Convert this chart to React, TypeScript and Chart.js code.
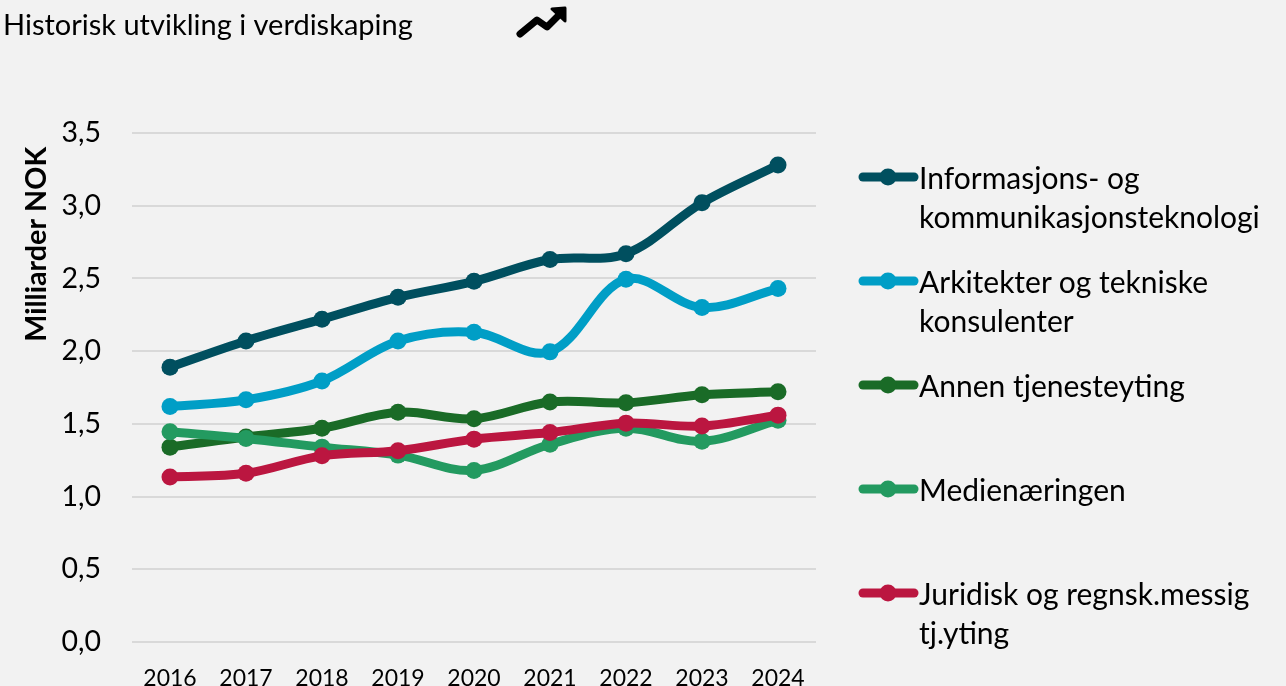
import React, { useEffect, useRef } from "react";
import { Chart, registerables } from "chart.js";

Chart.register(...registerables);

const years = ["2016", "2017", "2018", "2019", "2020", "2021", "2022", "2023", "2024"];
const informasjon = [1.89, 2.07, 2.22, 2.37, 2.48, 2.63, 2.67, 3.02, 3.28];
const arkitekter = [1.62, 1.665, 1.795, 2.07, 2.13, 1.995, 2.495, 2.3, 2.43];
const annen = [1.34, 1.41, 1.47, 1.58, 1.535, 1.65, 1.645, 1.7, 1.72];
const medie = [1.445, 1.4, 1.34, 1.285, 1.18, 1.36, 1.47, 1.38, 1.525];
const juridisk = [1.135, 1.16, 1.28, 1.315, 1.395, 1.44, 1.505, 1.485, 1.56];

const FONT = "Lato, 'Open Sans', sans-serif";
const TITLE = "Historisk utvikling i verdiskaping";
const AXIS_TITLE = "Milliarder NOK\u00a0\u00a0";

const series = [
  { lines: ["Informasjons- og", "kommunikasjonsteknologi"], data: informasjon, color: "#004f5f", legendY: 177 },
  { lines: ["Arkitekter og tekniske", "konsulenter"], data: arkitekter, color: "#009ec6", legendY: 281 },
  { lines: ["Annen tjenesteyting"], data: annen, color: "#1a6b27", legendY: 385 },
  { lines: ["Medienæringen"], data: medie, color: "#239a60", legendY: 489 },
  { lines: ["Juridisk og regnsk.messig", "tj.yting"], data: juridisk, color: "#bb1640", legendY: 593 },
];

export default function App() {
  const ref = useRef<HTMLCanvasElement>(null);
  useEffect(() => {
    document.body.style.margin = "0";
    document.body.style.background = "#f2f2f2";
    const chart = new Chart(ref.current!, {
      type: "line",
      data: {
        labels: years,
        datasets: series.map((s, i) => ({
          label: s.lines.join(" "),
          data: s.data,
          borderColor: s.color,
          backgroundColor: s.color,
          borderWidth: 9,
          pointRadius: 8.5,
          pointBorderWidth: 0,
          pointBackgroundColor: s.color,
          borderCapStyle: "round",
          tension: 0.35,
          order: series.length - i,
        })),
      },
      options: {
        responsive: false,
        animation: false,
        layout: { padding: { left: 3, right: 470, top: 0, bottom: 0 } },
        plugins: {
          legend: { display: false },
          tooltip: { enabled: false },
          title: {
            display: true,
            text: TITLE,
            align: "start",
            color: "#000",
            font: { family: FONT, size: 29, weight: "normal", lineHeight: 1.2 },
            padding: { top: 8, bottom: 90.2 },
          },
        },
        scales: {
          x: {
            offset: true,
            grid: { display: false },
            border: { display: false },
            ticks: { color: "#000", font: { family: FONT, size: 23 }, padding: 15, maxRotation: 0 },
            afterFit: (s: any) => { s.height = 44; },
          },
          y: {
            min: 0,
            max: 3.5,
            grid: { color: "#d9d9d9", lineWidth: 2, drawTicks: false },
            border: { display: false },
            ticks: {
              stepSize: 0.5,
              color: "#000",
              padding: 31,
              font: { family: FONT, size: 28.5 },
              callback: (v: any) => Number(v).toFixed(1).replace(".", ","),
            },
            title: {
              display: true,
              text: AXIS_TITLE,
              color: "#000",
              align: "end",
              font: { family: FONT, size: 28.7, weight: "bold" },
              padding: { top: 17, bottom: 0 },
            },
            afterFit: (s: any) => {
              s.width = 129;
              s.paddingTop = 0;
              s.paddingBottom = 0;
            },
          },
        },
      },
    } as any);
    return () => chart.destroy();
  }, []);

  return (
    <div style={{ position: "relative", width: 1286, height: 686, overflow: "hidden", background: "#f2f2f2" }}>
      <canvas ref={ref} width={1286} height={686} style={{ display: "block", position: "absolute", left: 0, top: 0 }} />
      <svg width={1286} height={686} style={{ position: "absolute", left: 0, top: 0, pointerEvents: "none" }}>
        <polyline points="520,34 537,20 547,27 560,14" fill="none" stroke="#000" strokeWidth={7} strokeLinecap="round" strokeLinejoin="round" />
        <polygon points="552,9 565,8 565,21" fill="#000" stroke="#000" strokeWidth={3} strokeLinejoin="round" />
        {series.map((s) => (
          <g key={s.lines[0]}>
            <line x1={863} x2={914} y1={s.legendY} y2={s.legendY} stroke={s.color} strokeWidth={9} strokeLinecap="round" />
            <circle cx={888} cy={s.legendY} r={8.5} fill={s.color} />
          </g>
        ))}
      </svg>
      {series.map((s) =>
        s.lines.map((line, j) => (
          <div
            key={line}
            style={{
              position: "absolute",
              left: 919,
              top: s.legendY - 20 + j * 39,
              height: 40,
              lineHeight: "40px",
              whiteSpace: "nowrap",
              color: "#000",
              fontFamily: FONT,
              fontSize: 30,
            }}
          >
            {line}
          </div>
        ))
      )}
    </div>
  );
}
